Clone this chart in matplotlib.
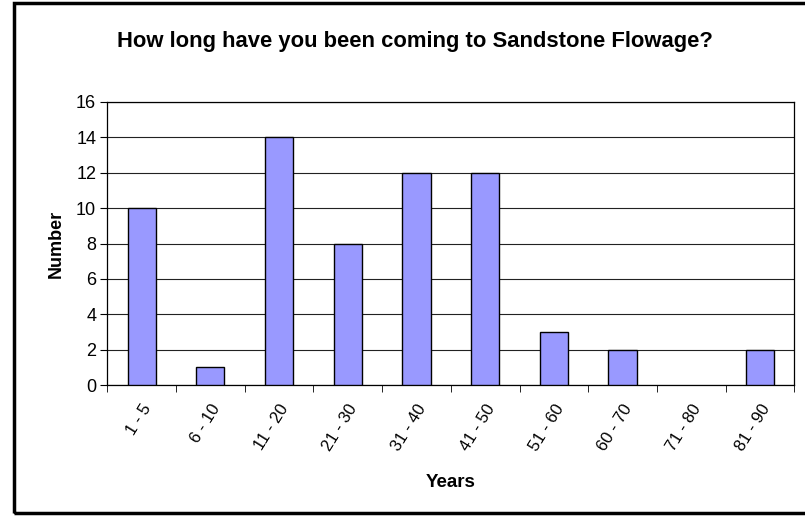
import matplotlib.pyplot as plt
from matplotlib.patches import Rectangle
import numpy as np

plt.rcParams['font.family'] = ['Liberation Sans', 'DejaVu Sans']

categories = ["1 - 5", "6 - 10", "11 - 20", "21 - 30", "31 - 40",
              "41 - 50", "51 - 60", "60 - 70", "71 - 80", "81 - 90"]
counts = [10, 1, 14, 8, 12, 12, 3, 2, 0, 2]

fig = plt.figure(figsize=(8.05, 5.16), dpi=100)
ax = fig.add_axes([107.3 / 805, 1 - 385 / 516, 687 / 805, 283 / 516])

x = np.arange(len(categories))
# empty categories get no outline, as in the original
edge_widths = [1.0 if c > 0 else 0 for c in counts]
ax.bar(x, counts, width=0.41, color="#9999FF", edgecolor="black",
       linewidth=edge_widths, zorder=3)

ax.set_xlim(-0.5, len(categories) - 0.5)
ax.set_ylim(0, 16)
ax.set_yticks(range(0, 17, 2))
ax.yaxis.grid(True, color="#222222", linewidth=0.8, zorder=0)

ax.set_xticks(x)
ax.set_xticklabels(categories, rotation=58, ha="right", rotation_mode="anchor",
                   fontsize=12)
ax.set_xticks(np.arange(-0.5, len(categories), 1), minor=True)
ax.tick_params(axis="x", which="major", length=0, pad=12)
ax.tick_params(axis="x", which="minor", length=5, direction="out")
ax.tick_params(axis="y", length=5, direction="out", labelsize=13, pad=3)

for s in ax.spines.values():
    s.set_color("black")
    s.set_linewidth(0.9)

ax.set_xlabel("Years", fontsize=13.5, fontweight="bold", labelpad=15)
ax.set_ylabel("Number", fontsize=13, fontweight="bold", labelpad=8)
fig.text(415 / 805, 1 - 42 / 516,
         "How long have you been coming to Sandstone Flowage?",
         ha="center", va="center", fontsize=15.8, fontweight="bold")

fig.patches.append(Rectangle((14 / 805, 3 / 516), 1, 510 / 516,
                             transform=fig.transFigure, fill=False,
                             edgecolor="black", linewidth=2.5))

fig.savefig("out.png", dpi=100)
